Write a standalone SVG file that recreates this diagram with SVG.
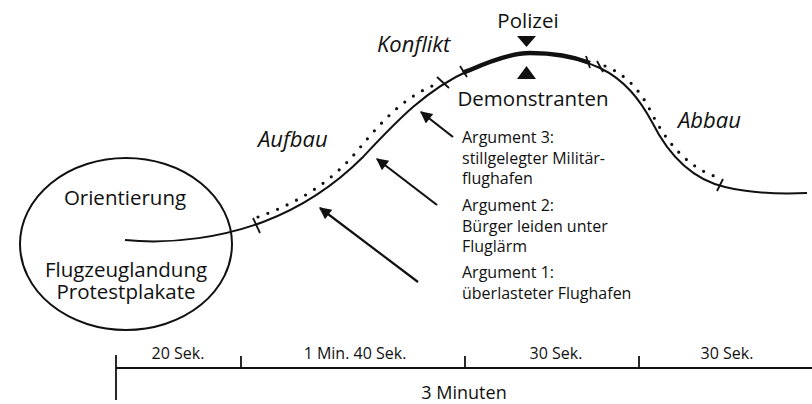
<svg xmlns="http://www.w3.org/2000/svg" width="812" height="404" viewBox="0 0 812 404">
<style>
  text { font-family: "Open Sans", "Noto Sans", "Liberation Sans", sans-serif; fill: #111; }
  .lbl { font-size: 20.5px; }
  .it { font-size: 22px; font-style: italic; }
  .arg { font-size: 16px; }
  .tl { font-size: 16px; }
  .ln { fill: none; stroke: #111; stroke-width: 2; }
  .dots { fill: none; stroke: #111; stroke-width: 3.2; stroke-linecap: round; stroke-dasharray: 0 10.5; }
  .tick { stroke: #111; stroke-width: 1.8; }
  .arrow { stroke: #111; stroke-width: 2.2; marker-end: url(#ah); }
</style>
<defs>
  <marker id="ah" viewBox="0 0 10 10" refX="9" refY="5" markerWidth="15" markerHeight="12" markerUnits="userSpaceOnUse" orient="auto">
    <path d="M0,0 L10,5 L0,10 z" fill="#111"/>
  </marker>
</defs>
<rect width="812" height="404" fill="#fff"/>

<g id="orientierung">
  <ellipse cx="126" cy="244" rx="106" ry="86" class="ln"/>
  <text x="125" y="205" text-anchor="middle" class="lbl">Orientierung</text>
  <text x="126" y="277" text-anchor="middle" class="lbl">Flugzeuglandung</text>
  <text x="126" y="299" text-anchor="middle" class="lbl">Protestplakate</text>
</g>

<g id="curve">
  <path class="ln" d="M125,240 C175,245 225,236 263,222 C300,208 335,185 363,157 C395,123 425,90 470,70 C495,59 515,53 530,53 C555,53 575,57 600,68 C625,80 640,100 652,122 C670,158 695,180 725,187 C755,194 785,194 807,193"/>
  <path fill="none" stroke="#111" stroke-width="4.5" d="M463,73 C466,71.5 468,70.8 470,70 C495,59 515,53 530,53 C555,53 572,56 590,63"/>
  <path class="dots" d="M258,217 C295,204 330,184 358,150 C385,117 405,98 432,86"/>
  <path class="dots" d="M605,66 C625,74 640,90 650,110 C665,140 685,165 714,176"/>
  <line class="tick" x1="253" y1="218" x2="260" y2="233"/>
  <line class="tick" x1="437" y1="77" x2="449" y2="88"/>
  <line class="tick" x1="460" y1="66" x2="467" y2="77"/>
  <line class="tick" x1="586" y1="56" x2="590" y2="68"/>
  <line class="tick" x1="597" y1="61" x2="603" y2="72"/>
  <line class="tick" x1="723" y1="179" x2="717" y2="191"/>
</g>

<g id="phases">
  <text x="377" y="52" class="it">Konflikt</text>
  <text x="258" y="147" class="it">Aufbau</text>
  <text x="678" y="128" class="it">Abbau</text>
</g>

<g id="polizei">
  <text x="528" y="28" text-anchor="middle" class="lbl">Polizei</text>
  <path d="M517,36 L536,36 L526.5,47 z" fill="#111"/>
</g>
<g id="demonstranten">
  <path d="M517,79 L536,79 L526.5,66 z" fill="#111"/>
  <text x="533" y="106" text-anchor="middle" class="lbl">Demonstranten</text>
</g>

<g id="arguments">
  <text x="462" y="143" class="arg">Argument 3:</text>
  <text x="462" y="163.5" class="arg">stillgelegter Militär-</text>
  <text x="462" y="184" class="arg">flughafen</text>
  <text x="462" y="211" class="arg">Argument 2:</text>
  <text x="462" y="231.5" class="arg">Bürger leiden unter</text>
  <text x="462" y="252" class="arg">Fluglärm</text>
  <text x="462" y="278" class="arg">Argument 1:</text>
  <text x="462" y="298.5" class="arg">überlasteter Flughafen</text>
</g>

<g id="connectors">
  <line class="arrow" x1="418" y1="282" x2="320" y2="208"/>
  <line class="arrow" x1="437" y1="205" x2="377" y2="159"/>
  <line class="arrow" x1="453" y1="137" x2="421" y2="112"/>
</g>

<g id="timeline">
  <line class="tick" x1="116" y1="368" x2="812" y2="368"/>
  <line class="tick" x1="116" y1="355" x2="116" y2="400"/>
  <line class="tick" x1="241" y1="356" x2="241" y2="368"/>
  <line class="tick" x1="465" y1="356" x2="465" y2="368"/>
  <line class="tick" x1="639" y1="356" x2="639" y2="368"/>
  <text x="178" y="359" text-anchor="middle" class="tl">20 Sek.</text>
  <text x="355" y="359" text-anchor="middle" class="tl">1 Min. 40 Sek.</text>
  <text x="556" y="359" text-anchor="middle" class="tl">30 Sek.</text>
  <text x="727" y="359" text-anchor="middle" class="tl">30 Sek.</text>
  <text x="464" y="399" text-anchor="middle" class="tl" style="font-size:18px">3 Minuten</text>
</g>
</svg>
